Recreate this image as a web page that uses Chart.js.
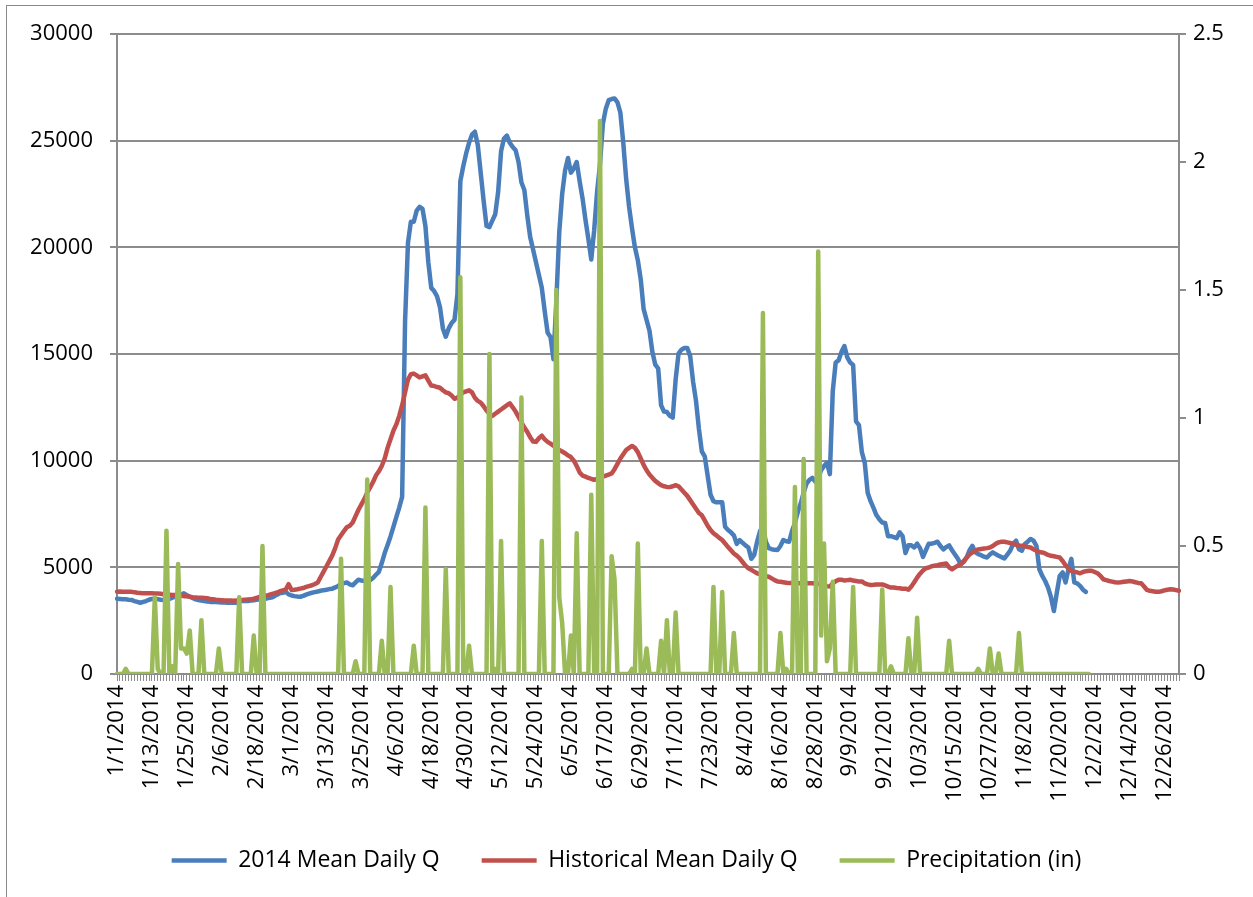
<!DOCTYPE html>
<html>
<head>
<meta charset="utf-8">
<script src="https://cdn.jsdelivr.net/npm/chart.js"></script>
<style>
  body { margin: 0; background: #fff; }
  #wrap { position: relative; width: 1253px; height: 897px; overflow: hidden; }
  #frame { position: absolute; left: 6px; top: 5px; right: -10px; bottom: -10px;
           border-left: 1.5px solid #8a8a8a; border-top: 1.5px solid #8a8a8a; }
  canvas { position: absolute; left: 0; top: 0; }
</style>
</head>
<body>
<div id="wrap">
  <div id="frame"></div>
  <canvas id="chart" width="1253" height="897"></canvas>
</div>
<script>
// days of 2014 as the sheet lists them (it carries a 2/29 row)
const monthDays = [31, 29, 31, 30, 31, 30, 31, 31, 30, 31, 30, 31];
const dates = [];
for (let m = 0; m < 12; m++) {
  for (let d = 1; d <= monthDays[m]; d++) dates.push((m + 1) + '/' + d + '/2014');
}

const seriesNames = ['2014 Mean Daily Q', 'Historical Mean Daily Q', 'Precipitation (in)'];

const flow2014 = [
  3530,3520,3500,3500,3480,3470,3420,3380,3340,3380,
  3420,3480,3520,3530,3510,3480,3470,3480,3520,3580,
  3620,3660,3720,3780,3700,3620,3560,3500,3470,3440,
  3420,3400,3380,3380,3370,3360,3350,3350,3340,3340,
  3340,3340,3400,3420,3420,3420,3440,3460,3480,3500,
  3500,3530,3560,3580,3640,3720,3790,3810,3850,3730,
  3680,3650,3630,3620,3660,3720,3770,3810,3840,3870,
  3900,3930,3950,3980,4000,4060,4130,4210,4260,4290,
  4200,4160,4290,4420,4380,4360,4380,4400,4500,4650,
  4790,5200,5670,6050,6450,6900,7350,7800,8300,16500,
  20200,21200,21200,21720,21900,21800,21000,19300,18100,17950,
  17700,17200,16200,15810,16200,16450,16600,17800,23100,23800,
  24400,24900,25280,25420,24800,23500,22200,21000,20950,21250,
  21550,22600,24500,25100,25240,24900,24700,24550,24000,23040,
  22690,21500,20490,19900,19300,18700,18100,17000,16000,15800,
  14750,17500,20700,22500,23600,24190,23500,23700,24000,23100,
  22300,21300,20400,19430,20800,22600,23900,25800,26500,26900,
  26950,26980,26800,26310,24900,23200,21900,20900,20000,19400,
  18500,17100,16600,16100,15100,14500,14320,12600,12300,12280,
  12100,12020,13800,15020,15200,15280,15280,14900,13700,12800,
  11500,10430,10200,9300,8400,8100,8050,8050,8050,6900,
  6750,6640,6500,6100,6280,6150,6030,5930,5400,5580,
  6200,6700,6900,6200,5900,5850,5820,5810,6000,6280,
  6220,6200,6700,7080,7600,8000,8500,8930,9100,9190,
  9020,9200,9550,9750,9900,9370,13250,14600,14700,15100,
  15370,14840,14600,14490,11840,11670,10400,9900,8500,8100,
  7790,7450,7250,7100,7080,6460,6460,6420,6370,6640,
  6460,5670,6030,6030,5930,6110,5900,5490,5800,6110,
  6110,6150,6200,6000,5840,5950,6030,5800,5600,5400,
  5150,5250,5460,5800,6010,5700,5620,5570,5500,5460,
  5600,5700,5620,5540,5480,5420,5600,5780,6100,6250,
  5850,5780,6090,6200,6330,6250,6010,4910,4600,4360,
  4050,3600,2950,3800,4600,4760,4290,4900,5400,4300,
  4250,4130,3950,3850
];

const flowHistorical = [
  3860,3870,3860,3860,3850,3850,3830,3810,3800,3780,
  3780,3790,3780,3770,3770,3760,3740,3730,3720,3700,
  3700,3690,3670,3650,3640,3620,3600,3590,3580,3570,
  3560,3550,3520,3500,3480,3470,3460,3450,3440,3440,
  3430,3440,3460,3470,3480,3490,3500,3530,3570,3610,
  3630,3660,3700,3740,3780,3820,3880,3920,3960,4210,
  3940,3950,3970,4000,4030,4080,4120,4160,4220,4290,
  4550,4800,5050,5300,5560,5900,6300,6500,6700,6880,
  6950,7100,7400,7700,7950,8200,8500,8750,9000,9300,
  9500,9750,10100,10600,11000,11400,11700,12100,12600,13200,
  13800,14050,14080,14000,13900,13950,14000,13750,13520,13500,
  13450,13420,13300,13200,13160,13050,12900,12950,13100,13200,
  13250,13300,13200,12950,12800,12720,12550,12350,12200,12100,
  12200,12300,12400,12500,12600,12690,12500,12300,12050,11800,
  11550,11350,11100,10900,10880,11050,11170,11000,10880,10800,
  10700,10600,10500,10430,10350,10250,10170,10000,9750,9450,
  9300,9250,9190,9150,9100,9150,9200,9250,9300,9350,
  9400,9600,9850,10100,10300,10500,10600,10690,10600,10400,
  10100,9800,9550,9350,9200,9050,8950,8850,8800,8770,
  8760,8800,8850,8800,8650,8500,8350,8150,7950,7750,
  7550,7440,7200,6950,6750,6600,6500,6380,6280,6120,
  5950,5800,5650,5550,5420,5250,5080,4960,4880,4800,
  4720,4680,4620,4580,4560,4480,4400,4340,4320,4300,
  4280,4260,4260,4260,4250,4250,4240,4250,4260,4250,
  4240,4230,4200,4150,4120,4100,4250,4350,4420,4420,
  4380,4400,4420,4380,4360,4340,4340,4250,4200,4170,
  4180,4200,4200,4200,4150,4100,4050,4050,4030,4020,
  4000,4000,3950,4100,4300,4520,4700,4850,4960,4990,
  5050,5080,5100,5130,5160,5180,5000,4910,5000,5080,
  5150,5300,5450,5600,5700,5780,5840,5860,5880,5900,
  5930,6000,6100,6170,6200,6200,6170,6140,6100,6060,
  6030,6010,5980,5950,5930,5850,5780,5720,5700,5650,
  5580,5540,5520,5490,5460,5300,5100,4950,4840,4800,
  4760,4720,4780,4820,4840,4840,4780,4720,4600,4440,
  4400,4360,4330,4300,4290,4300,4320,4340,4360,4340,
  4300,4270,4250,4100,3940,3900,3880,3860,3850,3880,
  3920,3950,3970,3960,3930,3900
];

const precipIn = [
  0,0,0,0.02,0,0,0,0,0,0,
  0,0,0,0.30,0.02,0,0,0.56,0,0.03,
  0,0.43,0.10,0.10,0.08,0.17,0,0,0,0.21,
  0,0,0,0,0,0.10,0,0,0,0,
  0,0,0.30,0,0,0,0,0.15,0,0,
  0.50,0,0,0,0,0,0,0,0,0,
  0,0,0,0,0,0,0,0,0,0,
  0,0,0,0,0,0,0,0.45,0,0,
  0,0,0.05,0,0,0,0.76,0,0,0,
  0,0.13,0,0,0.34,0,0,0,0,0,
  0,0,0.11,0,0,0,0.65,0,0,0,
  0,0,0,0.41,0,0,0,0,1.55,0,
  0,0.11,0,0,0,0,0,0,1.25,0,
  0.02,0,0.52,0,0,0,0,0,0,1.08,
  0,0,0,0,0,0,0.52,0,0,0,
  0,1.50,0.30,0.20,0,0,0.15,0,0.55,0,
  0,0,0,0.70,0,0,2.16,0,0,0,
  0.46,0.37,0,0,0,0,0,0.02,0,0.51,
  0,0,0.10,0,0,0,0,0.13,0,0.21,
  0,0,0.24,0,0,0,0,0,0,0,
  0,0,0,0,0,0.34,0,0,0.32,0,
  0,0,0.16,0,0,0,0,0,0,0,
  0,0,1.41,0,0,0,0,0,0.16,0,
  0.02,0,0,0.73,0,0,0.84,0,0,0,
  0,1.65,0.15,0.51,0.05,0.10,0.36,0,0,0,
  0,0,0,0.34,0,0,0,0,0,0,
  0,0,0,0.33,0,0,0.03,0,0,0,
  0,0,0.14,0,0,0.22,0,0,0,0,
  0,0,0,0,0,0,0.13,0,0,0,
  0,0,0,0,0,0,0.02,0,0,0,
  0.10,0,0,0.08,0,0,0,0,0,0,
  0.16,0,0,0,0,0,0,0,0,0,
  0,0,0,0,0,0,0,0,0,0,
  0,0,0,0,0
];

const font = { family: 'Open Sans', size: 22 };
const legendFont = { family: 'Open Sans', size: 23 };
const gridGray = '#8c8c8c';

function line(label, data, color, axis, order) {
  return {
    label: label, data: data, yAxisID: axis, order: order,
    borderColor: color, backgroundColor: color, borderWidth: 4.5,
    pointRadius: 0, tension: 0, fill: false,
    borderJoinStyle: 'round', borderCapStyle: 'round'
  };
}

new Chart(document.getElementById('chart'), {
  type: 'line',
  data: {
    labels: dates,
    datasets: [
      line(seriesNames[0], flow2014, '#4a7ebb', 'y', 2),
      line(seriesNames[1], flowHistorical, '#c0504d', 'y', 1),
      line(seriesNames[2], precipIn, '#9bbb59', 'y1', 0)
    ]
  },
  options: {
    responsive: false,
    animation: false,
    layout: { padding: { top: 34, left: 0, right: 0, bottom: 15 } },
    plugins: {
      tooltip: { enabled: false },
      legend: {
        position: 'bottom',
        labels: {
          usePointStyle: true, pointStyle: 'line', pointStyleWidth: 55,
          font: legendFont, color: '#000', padding: 42,
          sort: (a, b) => a.datasetIndex - b.datasetIndex
        }
      }
    },
    scales: {
      x: {
        type: 'category', offset: false,
        grid: { drawOnChartArea: false, drawTicks: true, tickLength: 7, color: gridGray, lineWidth: 1 },
        border: { color: gridGray, width: 2 },
        ticks: {
          autoSkip: false, maxRotation: 90, minRotation: 90, padding: 4,
          font: font, color: '#000',
          callback: function(v, i) { return i % 12 === 0 ? dates[i] : ''; }
        },
        afterFit: function(s) { s.height = 133; }
      },
      y: {
        position: 'left', min: 0, max: 30000,
        grid: { color: gridGray, lineWidth: 2, tickLength: 7 },
        border: { color: gridGray, width: 2 },
        ticks: { stepSize: 5000, padding: 17, font: font, color: '#000',
                 callback: function(v) { return String(v); } },
        afterFit: function(s) { s.width = 117; }
      },
      y1: {
        position: 'right', min: 0, max: 2.5,
        grid: { drawOnChartArea: false, color: gridGray, lineWidth: 2, tickLength: 7 },
        border: { color: gridGray, width: 2 },
        ticks: { stepSize: 0.5, padding: 7, font: font, color: '#000',
                 callback: function(v) { return String(v); } },
        afterFit: function(s) { s.width = 74; }
      }
    }
  }
});
</script>
</body>
</html>
